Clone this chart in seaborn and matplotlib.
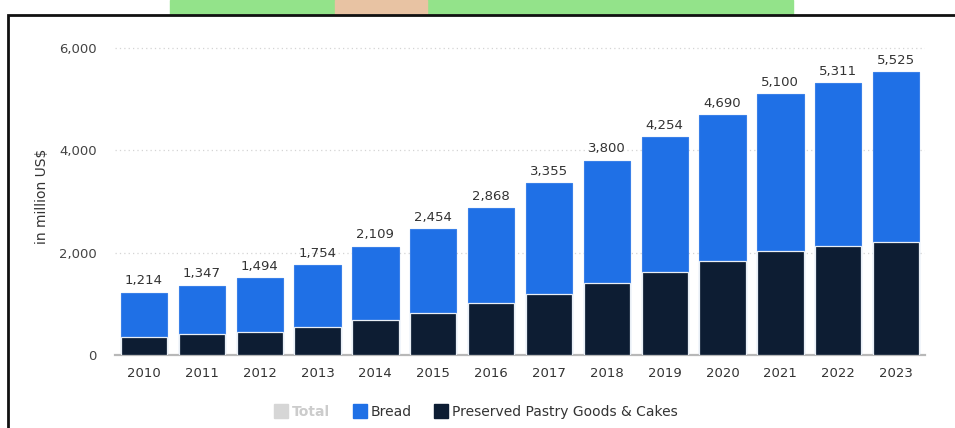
import numpy as np
import pandas as pd
import matplotlib.pyplot as plt
import seaborn as sns
from matplotlib.lines import Line2D
from matplotlib.patches import Rectangle

years = ['2010', '2011', '2012', '2013', '2014', '2015', '2016',
         '2017', '2018', '2019', '2020', '2021', '2022', '2023']
# in million US$
bread = [859, 947, 1044, 1209, 1439, 1644, 1863, 2165, 2395, 2639, 2860, 3075, 3181, 3310]
pastry = [355, 400, 450, 545, 670, 810, 1005, 1190, 1405, 1615, 1830, 2025, 2130, 2215]
yticks = [0, 2000, 4000, 6000]

blue = '#1f70e6'
navy = '#0d1d33'

df = pd.DataFrame({'year': years, 'bread': bread, 'pastry': pastry})
df['total'] = df['bread'] + df['pastry']

sns.set_style('white')
plt.rcParams['font.family'] = ['DejaVu Sans']

fig = plt.figure(figsize=(9.55, 4.28), dpi=100)
ax = fig.add_axes([115 / 955, 1 - 354.7 / 428, 810 / 955, (354.7 - 38) / 428])

# bread sits on top of pastry -> draw total in blue, pastry over it
sns.barplot(data=df, x='year', y='total', color=blue, saturation=1, width=0.8,
            edgecolor='#3a80e8', linewidth=0.8, ax=ax, zorder=2)
sns.barplot(data=df, x='year', y='pastry', color=navy, saturation=1, width=0.8,
            edgecolor='#e8eef5', linewidth=0.9, ax=ax, zorder=3)

ax.bar_label(ax.containers[0], labels=[f'{v:,}' for v in df['total']],
             padding=4, fontsize=9.5, color='#333333')

ax.set_xlim(-0.5, 13.5)
ax.set_ylim(0, 6200)
ax.set_yticks(yticks)
ax.set_yticklabels([f'{v:,}' for v in yticks])
for v in yticks[1:]:
    ax.axhline(v, color='#d4d4d4', lw=0.9, ls=(0, (1, 2.5)), zorder=1)

ax.set_xlabel('')
ax.set_ylabel('in million US$', fontsize=10, color='#333333', labelpad=7)
ax.tick_params(axis='y', length=0, pad=13, labelsize=9.5, labelcolor='#444444')
ax.tick_params(axis='x', length=0, pad=9, labelsize=9.5, labelcolor='#333333')
for s in ['left', 'right', 'top']:
    ax.spines[s].set_visible(False)
ax.spines['bottom'].set_color('#b8b8b8')
ax.spines['bottom'].set_linewidth(1.6)

handles = [
    Line2D([], [], marker='s', ls='', ms=10, mfc='#d6d6d6', mec='#d6d6d6'),
    Line2D([], [], marker='s', ls='', ms=10, mfc=blue, mec=blue),
    Line2D([], [], marker='s', ls='', ms=10, mfc=navy, mec=navy),
]
leg = fig.legend(handles, ['Total', 'Bread', 'Preserved Pastry Goods & Cakes'],
                 loc='center', bbox_to_anchor=(476 / 955, 1 - 412 / 428), ncol=3,
                 frameon=False, fontsize=10, handletextpad=0.3, columnspacing=1.6,
                 handlelength=1.0)
texts = leg.get_texts()
texts[0].set_color('#cccccc')
texts[0].set_fontweight('bold')
for t in texts[1:]:
    t.set_color('#333333')

# page decoration: frame and coloured strip above it
fig.patches.append(Rectangle((170 / 955, 1 - 15 / 428), 623 / 955, 15 / 428,
                             transform=fig.transFigure, color='#93e38a', zorder=0))
fig.patches.append(Rectangle((335 / 955, 1 - 15 / 428), 92 / 955, 15 / 428,
                             transform=fig.transFigure, color='#e8c3a3', zorder=0))
fig.patches.append(Rectangle((8 / 955, -0.05), 1.1, 1 - 15 / 428 + 0.05,
                             transform=fig.transFigure, fill=False,
                             edgecolor='#111111', lw=2, zorder=1))

fig.savefig('out.png', dpi=100)
